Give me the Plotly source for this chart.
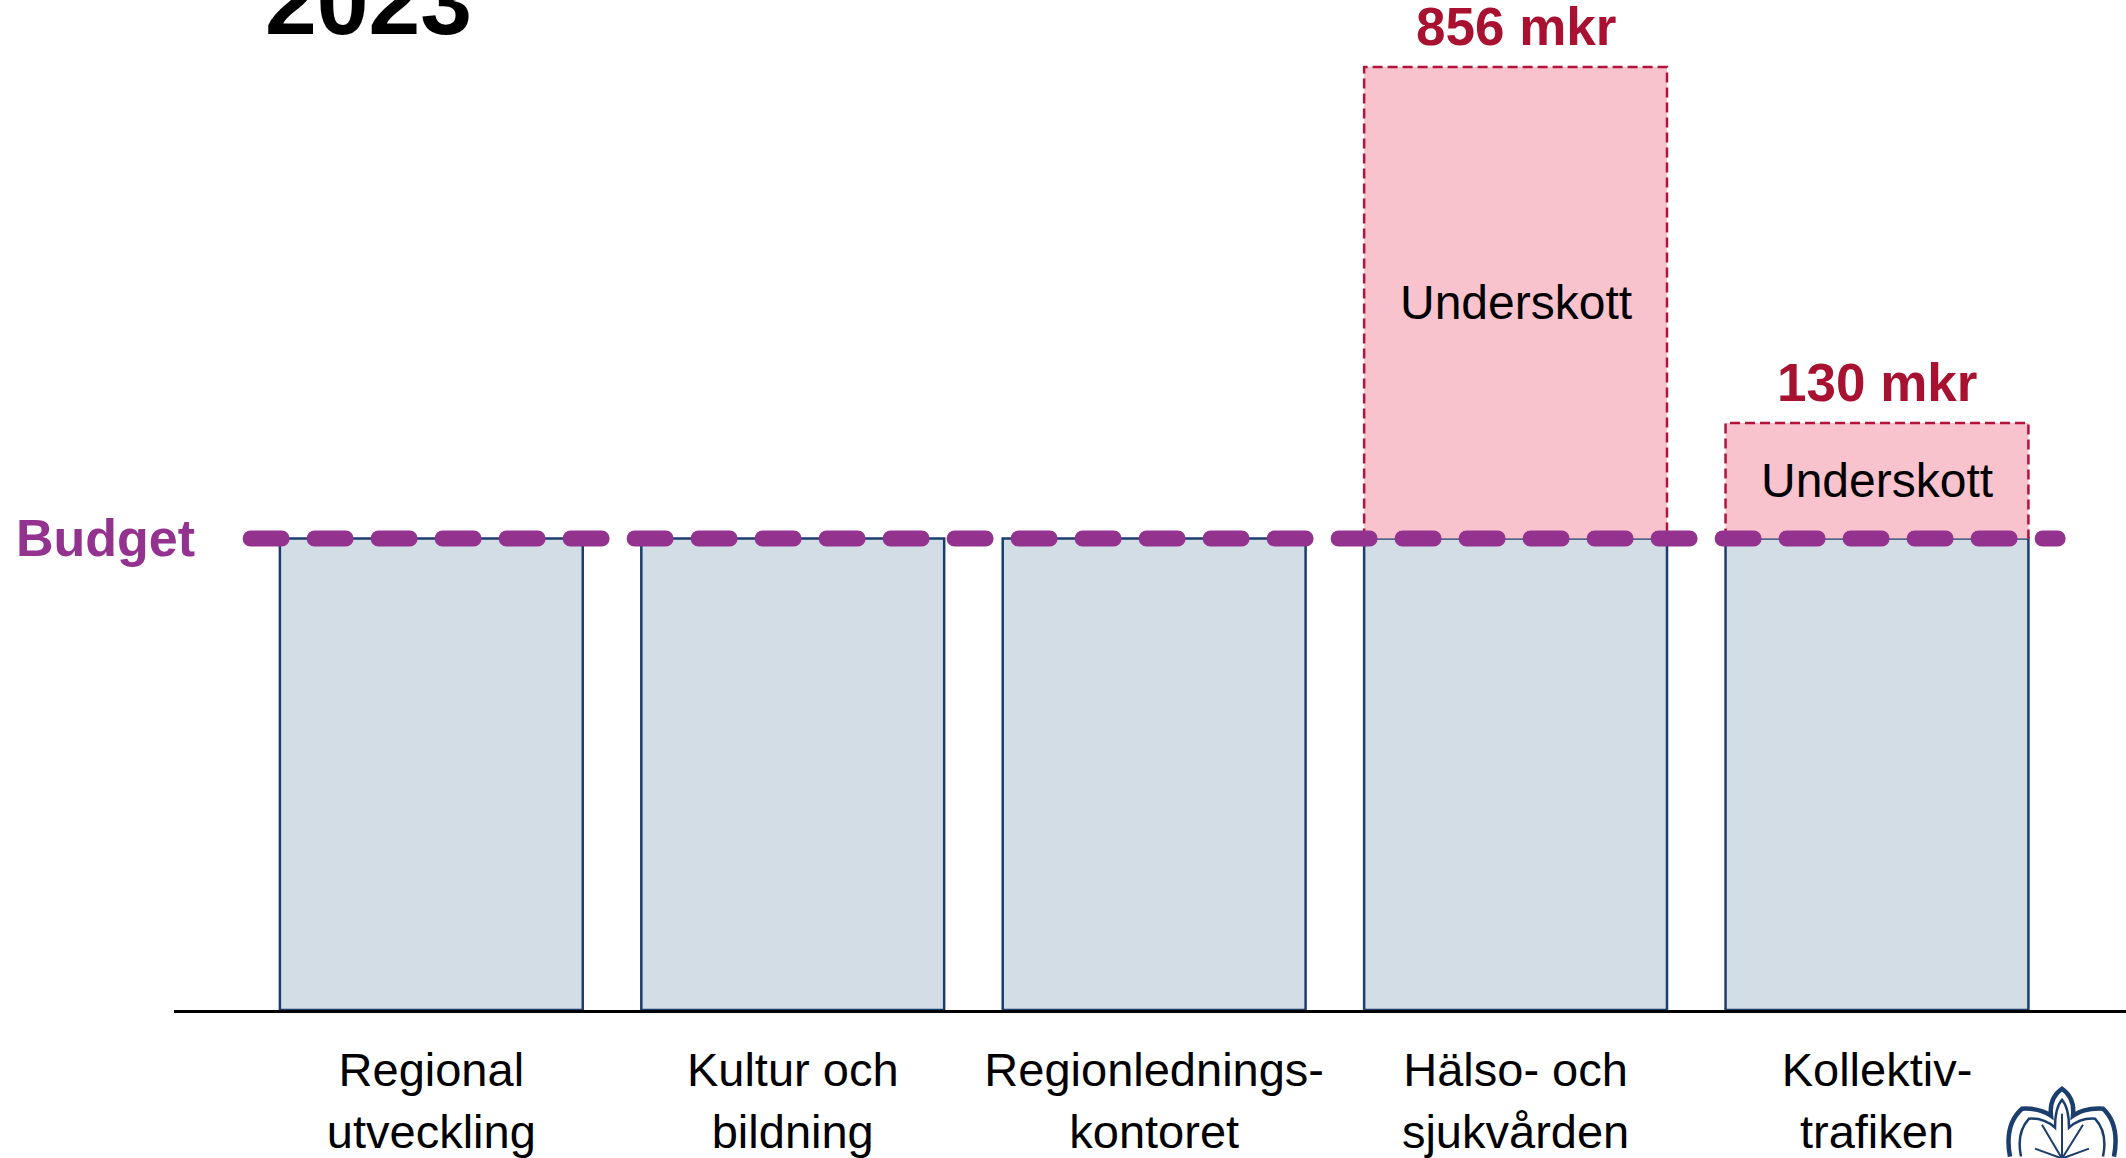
import plotly.graph_objects as go

# Committees (x categories), in the order shown
categories = [
    "Regional<br>utveckling",
    "Kultur och<br>bildning",
    "Regionlednings-<br>kontoret",
    "Hälso- och<br>sjukvården",
    "Kollektiv-<br>trafiken",
]
# Illustrative chart: every bar reaches budget (index 100); the overrun is
# drawn on top with the height (not to scale in mkr).
budget_level = [100, 100, 100, 100, 100]
deficit_height = [0, 0, 0, 100, 24.5]
deficit_mkr = [None, None, None, 856, 130]
deficit_label = "Underskott"
budget_label = "Budget"
title_text = "2023"

NAVY = "#1B3E6D"
BAR_FILL = "#D3DDE6"
PINK = "#F8C3CD"
CRIMSON = "#A8112F"
PURPLE = "#93328F"
FONT = "Liberation Sans, Arial, sans-serif"
BAR_W = 0.838

W, H = 2126, 1158
ML, MB = 174, 145

xs = list(range(len(categories)))
fig = go.Figure()

fig.add_trace(go.Bar(
    x=xs, y=budget_level, width=BAR_W,
    marker=dict(color=BAR_FILL, line=dict(color=NAVY, width=2.5)),
    hoverinfo="skip",
))
fig.add_trace(go.Bar(
    x=xs, y=deficit_height, base=budget_level, width=BAR_W,
    marker=dict(color=PINK, line=dict(width=0)),
    hoverinfo="skip",
))

# dashed outline + labels for the overrun boxes
for x, base, h, mkr in zip(xs, budget_level, deficit_height, deficit_mkr):
    if not h:
        continue
    top = base + h
    fig.add_trace(go.Scatter(
        x=[x - BAR_W / 2, x - BAR_W / 2, x + BAR_W / 2, x + BAR_W / 2],
        y=[base, top, top, base],
        mode="lines", line=dict(color="#B3123A", width=2.5, dash="10px,5px"),
        hoverinfo="skip",
    ))
    fig.add_annotation(
        x=x, y=base + h / 2, text=deficit_label, showarrow=False,
        font=dict(family=FONT, size=48, color="black"),
    )
    fig.add_annotation(
        x=x, y=top, text=f"<b>{mkr} mkr</b>", showarrow=False,
        yanchor="bottom", yshift=9,
        font=dict(family=FONT, size=53, color=CRIMSON),
    )

# budget line across all bars
fig.add_trace(go.Scatter(
    x=[xs[0] - 0.5, xs[-1] + 0.5], y=[budget_level[0]] * 2,
    mode="lines", line=dict(color=PURPLE, width=16, dash="31px,33px"),
    hoverinfo="skip",
))
fig.add_annotation(
    x=xs[0] - 0.5, y=budget_level[0], text=f"<b>{budget_label}</b>",
    showarrow=False, xanchor="right", yanchor="middle", xshift=-54,
    font=dict(family=FONT, size=52, color=PURPLE),
)

fig.add_annotation(
    xref="paper", yref="paper", x=0.0996, y=1, xanchor="center",
    yanchor="bottom", yshift=-56,
    text=f"<b>{title_text}</b>", showarrow=False,
    font=dict(family=FONT, size=93, color="black"),
)


# small emblem in the bottom-right corner (decoration, drawn in pixels)
def px(x, y):
    return f"{(x - ML) / (W - ML):.5f},{(H - MB - y) / (H - MB):.5f}"


outer = ("M " + px(2010, 1160) + " Q " + px(2004, 1128) + " " + px(2022, 1112)
         + " Q " + px(2040, 1111) + " " + px(2051, 1119)
         + " Q " + px(2049, 1101) + " " + px(2062, 1092)
         + " Q " + px(2075, 1101) + " " + px(2073, 1119)
         + " Q " + px(2084, 1111) + " " + px(2103, 1112)
         + " Q " + px(2120, 1128) + " " + px(2114, 1160))
inner = ("M " + px(2021, 1160) + " Q " + px(2016, 1136) + " " + px(2029, 1122)
         + " Q " + px(2044, 1121) + " " + px(2055, 1131)
         + " Q " + px(2055, 1111) + " " + px(2062, 1103)
         + " Q " + px(2069, 1111) + " " + px(2069, 1131)
         + " Q " + px(2080, 1121) + " " + px(2095, 1122)
         + " Q " + px(2108, 1136) + " " + px(2103, 1160))
for path, wdt in ((outer, 4.5), (inner, 2.5)):
    fig.add_shape(type="path", xref="paper", yref="paper", path=path,
                  line=dict(color=NAVY, width=wdt))
for dx, dy in ((2062, 1117), (2042, 1128), (2083, 1128), (2035, 1152), (2089, 1152)):
    fig.add_shape(type="path", xref="paper", yref="paper",
                  path="M " + px(2062, 1162) + " L " + px(dx, dy),
                  line=dict(color=NAVY, width=2))
    fig.add_shape(type="path", xref="paper", yref="paper",
                  path="M " + px(dx - 2.5, dy) + " A 1 1 0 0 1 " + px(dx + 2.5, dy)
                  + " A 1 1 0 0 1 " + px(dx - 2.5, dy) + " Z",
                  fillcolor=NAVY, line=dict(color=NAVY, width=1))

fig.update_layout(
    width=W, height=H,
    margin=dict(l=ML, r=0, t=0, b=MB),
    paper_bgcolor="white", plot_bgcolor="white",
    showlegend=False, barmode="overlay",
    font=dict(family=FONT, color="black"),
)
fig.update_xaxes(
    range=[-0.712, 4.689], tickvals=xs, ticktext=categories,
    showline=True, linecolor="black", linewidth=3, showgrid=False,
    zeroline=False, ticks="", tickfont=dict(size=47, color="black"),
    ticklabelstandoff=17,
)
fig.update_yaxes(range=[0, 214.2], visible=False)

post = """
var gd = document.getElementById('{plot_id}');
document.body.style.margin = '0';
function roundCaps() {
  gd.querySelectorAll('.scatterlayer path.js-line').forEach(function (p) {
    if ((p.style.strokeWidth || '').indexOf('16') === 0) p.style.strokeLinecap = 'round';
  });
}
roundCaps();
gd.on('plotly_afterplot', roundCaps);
"""
fig.write_html("out.html", post_script=post, config={"displayModeBar": False})
